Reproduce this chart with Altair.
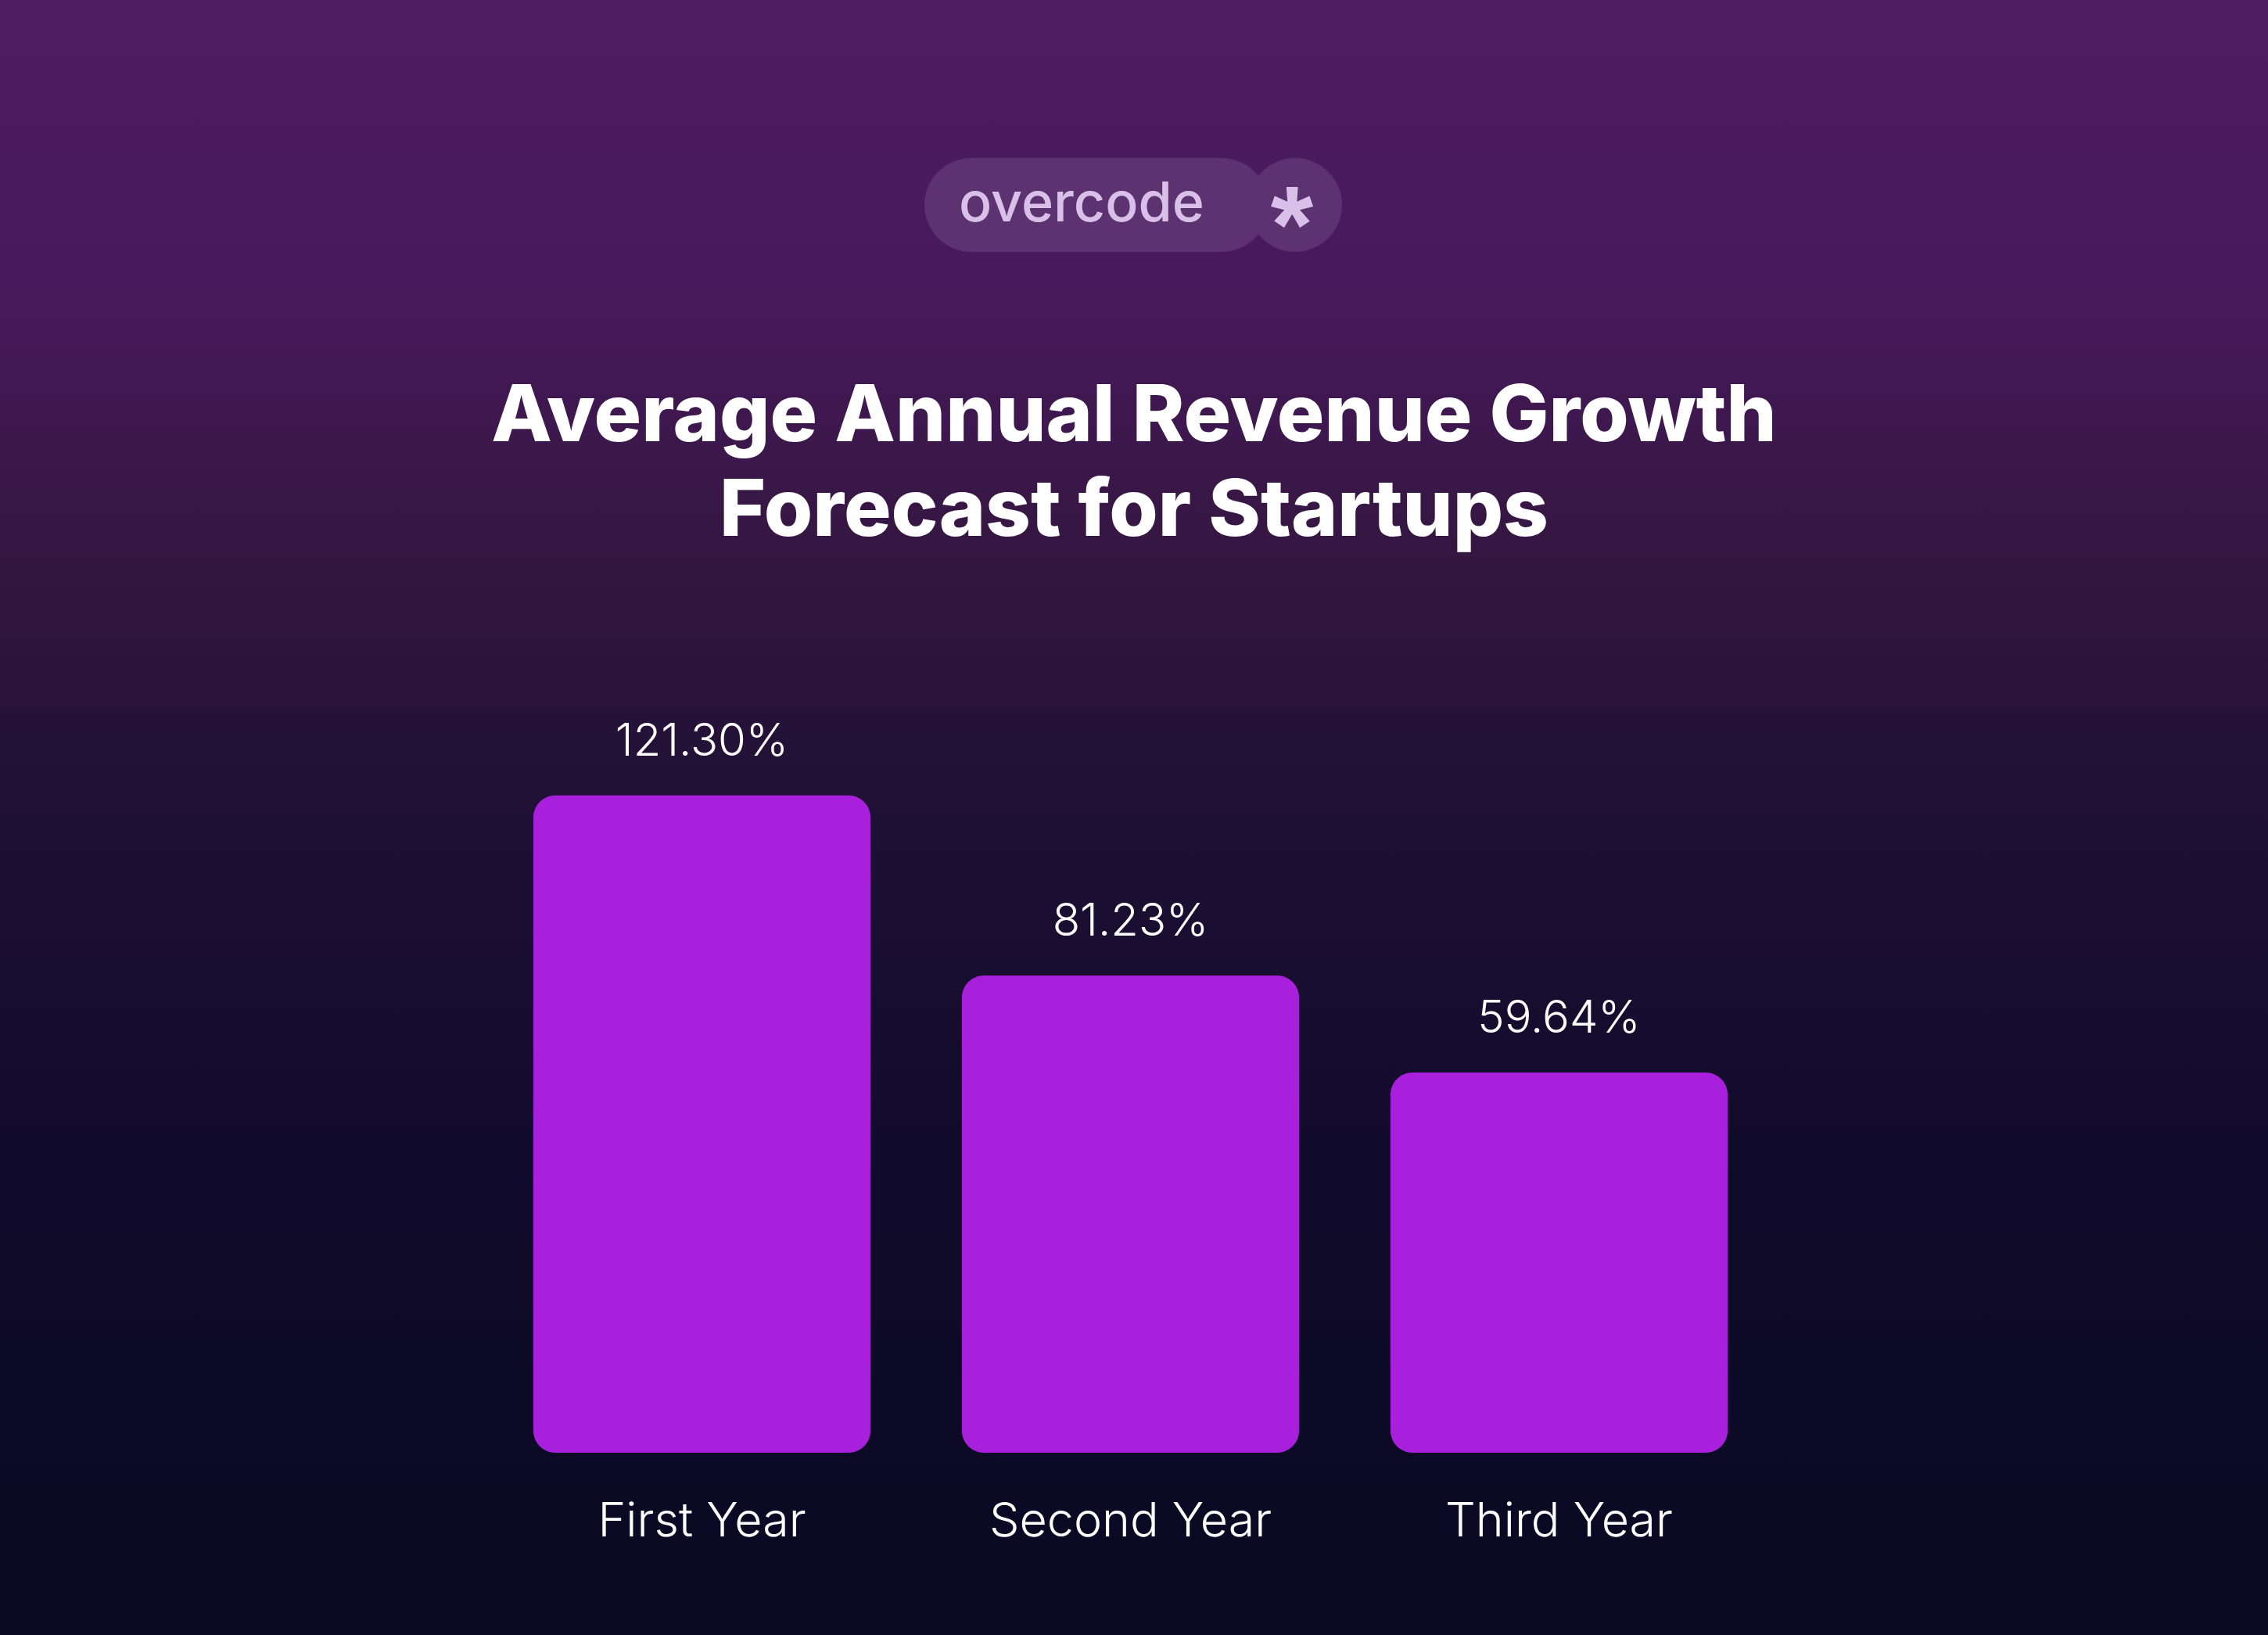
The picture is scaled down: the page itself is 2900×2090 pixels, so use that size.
import altair as alt
import pandas as pd

# ---- data ----
categories = ["First Year", "Second Year", "Third Year"]
values = [121.30, 81.23, 59.64]
value_labels = ["121.30%", "81.23%", "59.64%"]
title_lines = ["Average Annual Revenue Growth", "Forecast for Startups"]
brand = "overcode"

df = pd.DataFrame({"category": categories, "value": values, "label": value_labels})
one = pd.DataFrame({"k": [0]})

W, H = 2900, 2090
Y_MIN, Y_MAX = -25, 125

x_enc = alt.X(
    "category:N",
    sort=categories,
    axis=None,
    scale=alt.Scale(range=[682, 2209], paddingInner=0.2135, paddingOuter=0),
)
y_scale = alt.Scale(domain=[Y_MIN, Y_MAX], range=[1857, 995.5])

# background gradient
bg = alt.Chart(one).mark_rect(
    color=alt.Gradient(
        gradient="linear",
        x1=0, x2=0, y1=0, y2=1,
        stops=[
            alt.GradientStop(offset=0, color="#4F1C63"),
            alt.GradientStop(offset=0.18, color="#47195B"),
            alt.GradientStop(offset=0.35, color="#33163F"),
            alt.GradientStop(offset=0.5, color="#1E1034"),
            alt.GradientStop(offset=0.7, color="#110B2B"),
            alt.GradientStop(offset=1, color="#090922"),
        ],
    )
).encode(x=alt.value(0), x2=alt.value(W), y=alt.value(0), y2=alt.value(H))

# logo
pill = alt.Chart(one).mark_rect(cornerRadius=60, color="#5D3271").encode(
    x=alt.value(1182), x2=alt.value(1622), y=alt.value(202), y2=alt.value(322)
)
bulb = alt.Chart(one).mark_rect(cornerRadius=60, color="#5D3271").encode(
    x=alt.value(1596), x2=alt.value(1716), y=alt.value(202), y2=alt.value(322)
)
brand_txt = alt.Chart(one).mark_text(
    text=brand, font="Inter", fontWeight=500, fontSize=70, color="#D8C0E8",
    align="center", baseline="alphabetic",
).encode(x=alt.value(1383), y=alt.value(283))
star = alt.Chart(one).mark_text(
    text="*", font="Liberation Sans", fontWeight="bold", fontSize=140, color="#D8C0E8",
    align="center", baseline="alphabetic",
).encode(x=alt.value(1652), y=alt.value(335))

# title
title = alt.Chart(one).mark_text(
    text=title_lines, font="Inter", fontWeight=800, fontSize=101,
    lineHeight=121, color="white", align="center", baseline="alphabetic",
).encode(x=alt.value(1450), y=alt.value(564))

# bars
base = alt.Chart(df)
bars = base.mark_bar(cornerRadius=28, color="#A820DB").encode(
    x=x_enc,
    y=alt.Y("value:Q", axis=None, scale=y_scale),
    y2=alt.datum(Y_MIN),
)
vals = base.mark_text(
    font="Inter", fontWeight=300, fontSize=58, color="white",
    align="center", baseline="alphabetic", dy=-51,
).encode(x=x_enc, y=alt.Y("value:Q", axis=None, scale=y_scale), text="label:N")
cats = base.mark_text(
    font="Inter", fontWeight=300, fontSize=61, color="white",
    align="center", baseline="alphabetic",
).encode(x=x_enc, y=alt.value(1964), text="category:N")

chart = (
    alt.layer(bg, pill, bulb, brand_txt, star, title, bars, vals, cats)
    .properties(width=W, height=H, padding=0, autosize="none", background="#090922")
    .configure_view(strokeWidth=0)
)

chart.save("out.html", embed_options={"renderer": "svg", "actions": False})
